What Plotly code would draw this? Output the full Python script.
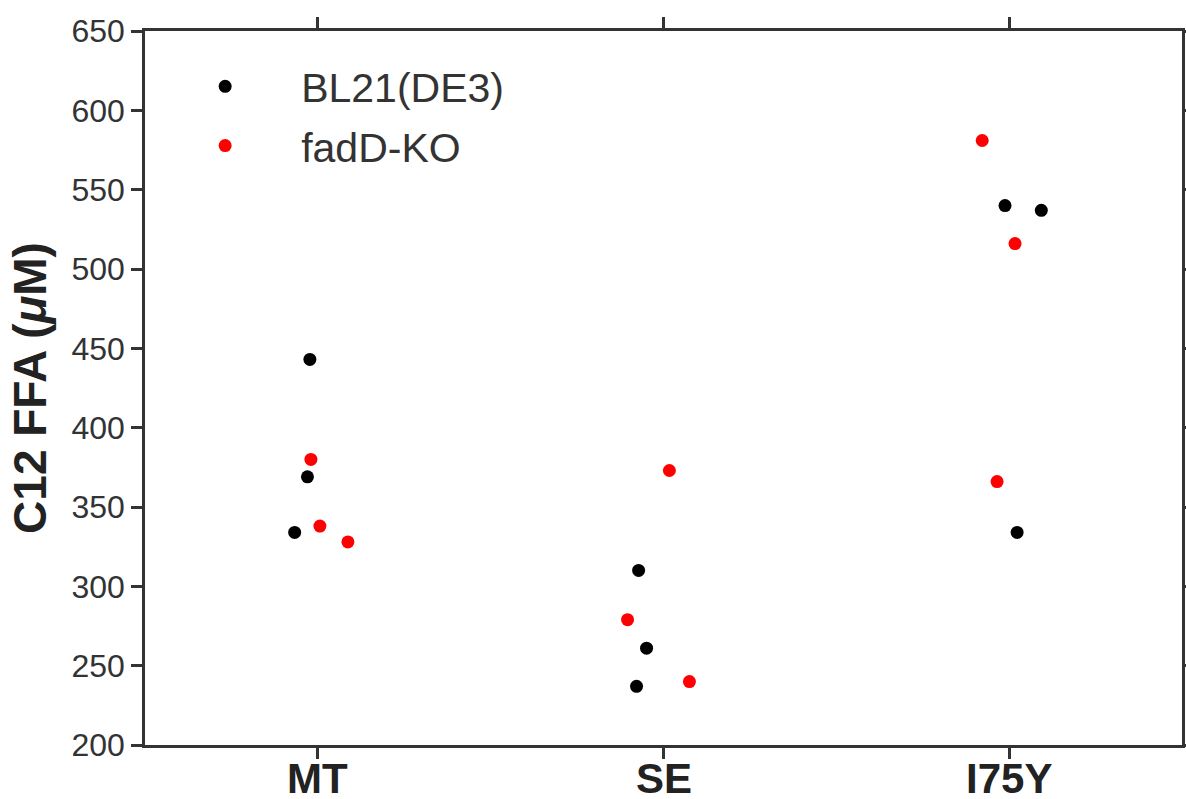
import plotly.graph_objects as go

categories = ["MT", "SE", "I75Y"]

# BL21(DE3) points: category index, jitter offset, value
bl21_cat = [0, 0, 0, 1, 1, 1, 2, 2, 2]
bl21_jit = [-0.023, -0.03, -0.067, -0.072, -0.049, -0.078, -0.012, 0.093, 0.023]
bl21_val = [443, 369, 334, 310, 261, 237, 540, 537, 334]

# fadD-KO points
fadd_cat = [0, 0, 0, 1, 1, 1, 2, 2, 2]
fadd_jit = [-0.02, 0.006, 0.087, 0.017, -0.104, 0.075, -0.078, 0.017, -0.035]
fadd_val = [380, 338, 328, 373, 279, 240, 581, 516, 366]

y_ticks = [200, 250, 300, 350, 400, 450, 500, 550, 600, 650]

fig = go.Figure()
fig.add_trace(go.Scatter(
    x=[c + j for c, j in zip(bl21_cat, bl21_jit)], y=bl21_val,
    mode="markers", name="BL21(DE3)", legendgroup="a",
    marker=dict(color="black", size=13)))
fig.add_trace(go.Scatter(
    x=[c + j for c, j in zip(fadd_cat, fadd_jit)], y=fadd_val,
    mode="markers", name="fadD-KO", legendgroup="b",
    marker=dict(color="#ff0000", size=13)))

# category labels below the axis (as annotations so they sit close to the ticks)
for i, cat in enumerate(categories):
    fig.add_annotation(x=i, y=0, xref="x", yref="paper", text=f"<b>{cat}</b>",
                       showarrow=False, xanchor="center", yanchor="top", yshift=-8,
                       font=dict(family="Liberation Sans, Arial, sans-serif",
                                 size=42, color="#222222"))

axis_color = "#333333"
fig.update_layout(
    width=1186, height=799,
    margin=dict(l=145, r=4, t=31, b=54),
    paper_bgcolor="white", plot_bgcolor="white",
    font=dict(family="Liberation Sans, Arial, sans-serif", color="#333333"),
    showlegend=True,
    legend=dict(x=0.004, y=0.969, xanchor="left", yanchor="top",
                font=dict(size=41, color="#333333"), bgcolor="rgba(0,0,0,0)",
                itemwidth=142, traceorder="grouped", tracegroupgap=3),
    xaxis=dict(range=[-0.5, 2.5], tickvals=[0, 1, 2], showticklabels=False,
               automargin=False,
               showgrid=False, zeroline=False, showline=True, linewidth=2.5,
               linecolor=axis_color, mirror="ticks", ticks="outside",
               ticklen=11, tickwidth=2.5, tickcolor=axis_color),
    yaxis=dict(range=[200, 650], tickvals=y_ticks, automargin=False,
               showgrid=False, zeroline=False, showline=True, linewidth=2.5,
               linecolor=axis_color, mirror="ticks", ticks="outside",
               ticklen=11, tickwidth=2.5, tickcolor=axis_color,
               tickfont=dict(size=32, color="#333333"),
               title=dict(text="<b>C12 FFA (<i>μ</i>M)</b>",
                          font=dict(size=46, color="#222222"), standoff=11)),
)

fig.write_html("out.html", config={"displayModeBar": False},
               post_script="document.body.style.margin='0';document.body.style.overflow='hidden';")
